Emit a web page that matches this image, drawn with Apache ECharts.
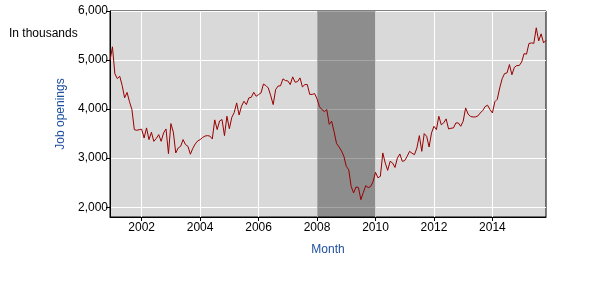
<!DOCTYPE html>
<html>
<head>
<meta charset="utf-8">
<script src="https://cdn.jsdelivr.net/npm/echarts@6/dist/echarts.min.js"></script>
<style>html,body{margin:0;padding:0;background:#fff}#c{width:600px;height:300px}</style>
</head>
<body>
<div id="c"></div>
<script>
// Job openings, thousands, monthly Dec 2000 .. Nov 2015
const v2000 = [4990];
const v2001 = [5270, 4720, 4622, 4670, 4480, 4230, 4340, 4150, 3990, 3580, 3568, 3580];
const v2002 = [3590, 3412, 3616, 3378, 3527, 3343, 3400, 3480, 3343, 3514, 3595, 3092];
const v2003 = [3704, 3530, 3106, 3208, 3241, 3378, 3276, 3241, 3080, 3200, 3290, 3350];
const v2004 = [3378, 3420, 3450, 3459, 3450, 3392, 3780, 3582, 3760, 3786, 3459, 3854];
const v2005 = [3600, 3830, 3930, 4126, 3880, 4060, 4160, 4092, 4228, 4241, 4343, 4262];
const v2006 = [4296, 4330, 4510, 4480, 4430, 4270, 4092, 4398, 4470, 4475, 4616, 4582];
const v2007 = [4575, 4500, 4657, 4548, 4560, 4636, 4452, 4500, 4500, 4300, 4300, 4316];
const v2008 = [4208, 4050, 3990, 3950, 3990, 3690, 3752, 3540, 3300, 3230, 3150, 3040];
const v2009 = [2833, 2765, 2425, 2290, 2412, 2400, 2153, 2300, 2439, 2400, 2420, 2520];
const v2010 = [2711, 2600, 2629, 3106, 2900, 2751, 2935, 2901, 2810, 3003, 3085, 2935];
const v2011 = [2950, 3037, 3139, 3100, 3071, 3208, 3459, 3139, 3500, 3445, 3228, 3514];
const v2012 = [3650, 3582, 3854, 3680, 3720, 3800, 3595, 3610, 3616, 3718, 3718, 3650];
const v2013 = [3752, 4024, 3900, 3850, 3840, 3840, 3860, 3920, 3970, 4050, 4080, 3990];
const v2014 = [3922, 4150, 4200, 4432, 4620, 4724, 4738, 4908, 4700, 4850, 4888, 4888];
const v2015 = [4960, 5130, 5120, 5337, 5350, 5340, 5657, 5390, 5534, 5350, 5404];

const startYear = 2000, startMonth = 12;
const xTickYears = ['2002', '2004', '2006', '2008', '2010', '2012', '2014'];
const yTicks = [2000, 3000, 4000, 5000, 6000];
const recessionStart = '2008-01', recessionEnd = '2010-01';

const values = [].concat(v2000, v2001, v2002, v2003, v2004, v2005, v2006, v2007,
  v2008, v2009, v2010, v2011, v2012, v2013, v2014, v2015);
const months = values.map((_, i) => {
  const t = (startMonth - 1) + i;
  const y = startYear + Math.floor(t / 12);
  const m = (t % 12) + 1;
  return y + '-' + (m < 10 ? '0' + m : '' + m);
});
const isTick = (idx, val) => {
  const v = val !== undefined ? val : months[idx];
  return v.slice(5) === '01' && xTickYears.indexOf(v.slice(0, 4)) >= 0;
};
const fmt = n => String(n).replace(/\B(?=(\d{3})+(?!\d))/g, ',');
const FONT = 'Liberation Sans';
const BLUE = '#1F4FA0';

const chart = echarts.init(document.getElementById('c'), null, {renderer: 'canvas'});
chart.setOption({
  animation: false,
  textStyle: {fontFamily: FONT},
  grid: {left: 110, right: 54, top: 11, bottom: 83, show: true,
         backgroundColor: '#D9D9D9', borderColor: '#000', borderWidth: 1},
  graphic: [{type: 'text', left: 9, top: 28,
             style: {text: 'In thousands', font: '12px "Liberation Sans"', fill: '#000'}}],
  xAxis: {
    type: 'category', data: months, boundaryGap: false,
    name: 'Month', nameLocation: 'middle', nameGap: 27,
    nameTextStyle: {color: BLUE, fontSize: 12, fontFamily: FONT},
    axisLine: {lineStyle: {color: '#000', width: 1}},
    axisTick: {show: true, interval: isTick, length: 4, lineStyle: {color: '#000'}},
    axisLabel: {interval: isTick, formatter: v => v.slice(0, 4), color: '#000',
                fontSize: 12, margin: 5, fontFamily: FONT},
    splitLine: {show: true, interval: isTick, lineStyle: {color: '#fff', width: 1}}
  },
  yAxis: {
    type: 'value', min: 1800, max: 6000,
    name: 'Job openings', nameLocation: 'middle', nameRotate: 90, nameGap: 40,
    nameTextStyle: {color: BLUE, fontSize: 12, fontFamily: FONT},
    axisLine: {show: true, lineStyle: {color: '#000', width: 1}},
    axisTick: {show: true, length: 4, customValues: yTicks, lineStyle: {color: '#000'}},
    axisLabel: {customValues: yTicks, formatter: v => fmt(v), color: '#000',
                fontSize: 12, margin: 2, fontFamily: FONT},
    splitLine: {show: true, lineStyle: {color: '#fff', width: 1}}
  },
  series: [{
    type: 'line', data: values, showSymbol: false, symbol: 'none',
    lineStyle: {color: '#990000', width: 1},
    markArea: {silent: true, itemStyle: {color: '#000', opacity: 0.35},
               data: [[{xAxis: recessionStart}, {xAxis: recessionEnd}]]}
  }]
});
</script>
</body>
</html>
